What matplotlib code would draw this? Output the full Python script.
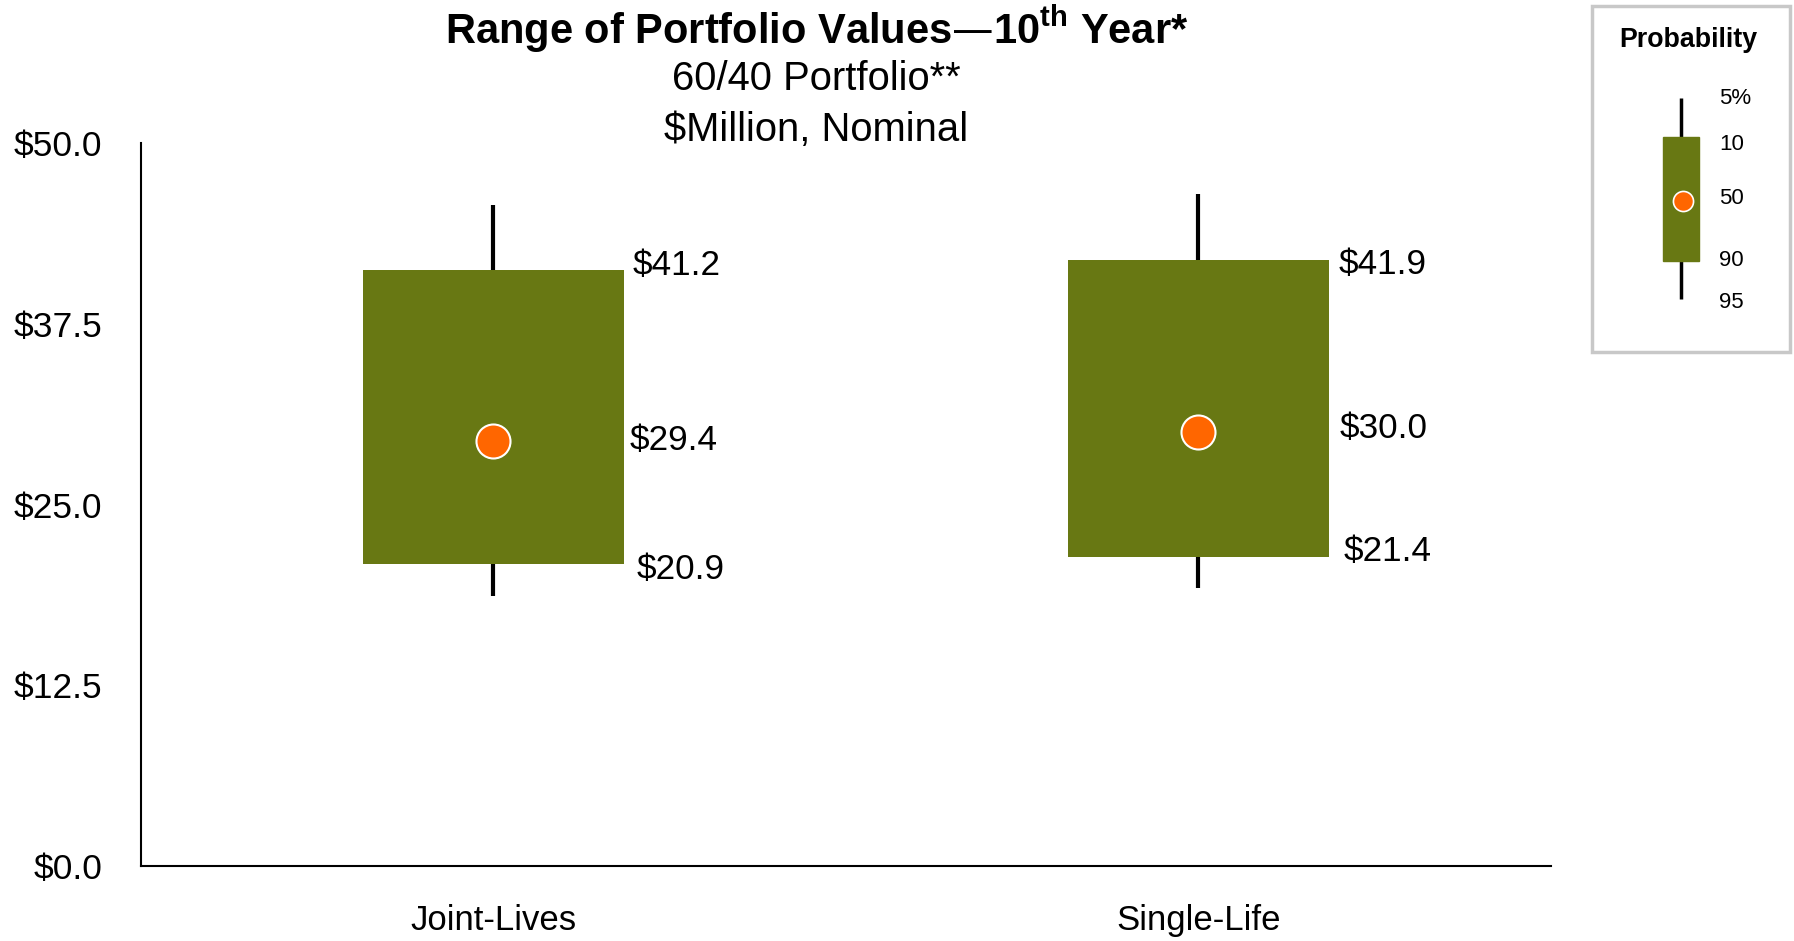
import numpy as np
import matplotlib.pyplot as plt
from matplotlib.patches import Rectangle

plt.rcParams['font.family'] = ['Liberation Sans', 'DejaVu Sans']

# data ($ million, nominal)
categories = ['Joint-Lives', 'Single-Life']
p5 = [18.7, 19.2]
p10 = [20.9, 21.4]
p50 = [29.4, 30.0]
p90 = [41.2, 41.9]
p95 = [45.7, 46.5]
y_ticks = [0.0, 12.5, 25.0, 37.5, 50.0]

# label nudges in points (dx, dy) for p90, p50, p10 of each category
label_nudge = [[(6, 3.3), (4, 0), (9, -4)],
               [(7, -3.3), (8, 2.5), (10.5, 4)]]

# legend key: schematic levels (top to bottom) and their labels
key_labels = ['5%', '10', '50', '90', '95']
key_levels = [94, 133, 197, 257, 295]
key_label_levels = [95, 141, 195, 256, 299]

OLIVE = '#687813'
ORANGE = '#FF6600'

fig = plt.figure(figsize=(17.94, 9.41), dpi=100)
ax = fig.add_axes([0.0786, 0.0797, 0.7859, 0.7683])

x = np.arange(len(categories))
box_w = 0.37

# whiskers (5th-95th), behind the boxes
ax.vlines(x, p5, p95, color='black', lw=3, zorder=1)
# boxes (10th-90th)
ax.bar(x, np.array(p90) - np.array(p10), bottom=p10, width=box_w,
       color=OLIVE, zorder=2)
# medians
ax.scatter(x, p50, s=600, color=ORANGE, edgecolors='white',
           linewidths=1.5, zorder=3)

for i in range(len(categories)):
    xr = x[i] + box_w / 2
    for val, (dx, dy) in zip([p90[i], p50[i], p10[i]], label_nudge[i]):
        ax.annotate(f'${val:.1f}', (xr, val), xytext=(dx, dy),
                    textcoords='offset points', ha='left', va='center',
                    fontsize=25.3)

ax.set_xlim(-0.5, 1.5)
ax.set_ylim(0, 50)
ax.set_xticks(x)
ax.set_xticklabels(categories, fontsize=25)
ax.set_yticks(y_ticks)
ax.set_yticklabels([f'${v:.1f}' for v in y_ticks], fontsize=25.5)
ax.tick_params(axis='both', length=0)
ax.tick_params(axis='y', pad=28)
ax.tick_params(axis='x', pad=27)
for s in ['top', 'right']:
    ax.spines[s].set_visible(False)
for s in ['left', 'bottom']:
    ax.spines[s].set_linewidth(1.5)

# titles
fig.text(0.455, 0.969, r'Range of Portfolio Values—10$^{\mathregular{th}}$ Year*',
         ha='center', va='center', fontsize=30, fontweight='bold')
fig.text(0.455, 0.916, '60/40 Portfolio**', ha='center', va='center',
         fontsize=28.8)
fig.text(0.455, 0.862, '$Million, Nominal', ha='center', va='center',
         fontsize=28.8)

# probability key (axes in pixel-like units, y downwards)
lax = fig.add_axes([1591 / 1794, 1 - 354 / 941, 200 / 1794, 350 / 941])
lax.set_xlim(0, 200)
lax.set_ylim(350, 0)
lax.axis('off')
lax.add_patch(Rectangle((0.005, 0.005), 0.99, 0.99, transform=lax.transAxes,
                        fill=False, edgecolor='#c8c8c8', lw=2.5, clip_on=False))
lax.text(97, 36, 'Probability', ha='center', va='center',
         fontsize=19.3, fontweight='bold')
kx = 90
lax.vlines(kx, key_levels[0], key_levels[4], color='black', lw=2.5, zorder=1)
lax.add_patch(Rectangle((kx - 18, key_levels[1]), 36,
                        key_levels[3] - key_levels[1], color=OLIVE, zorder=2))
lax.scatter([kx + 2], [key_levels[2]], s=210, color=ORANGE,
            edgecolors='white', linewidths=1.2, zorder=3)
for lab, lev in zip(key_labels, key_label_levels):
    lax.text(128, lev, lab, ha='left', va='center', fontsize=16)

fig.savefig('out.png', dpi=100)
